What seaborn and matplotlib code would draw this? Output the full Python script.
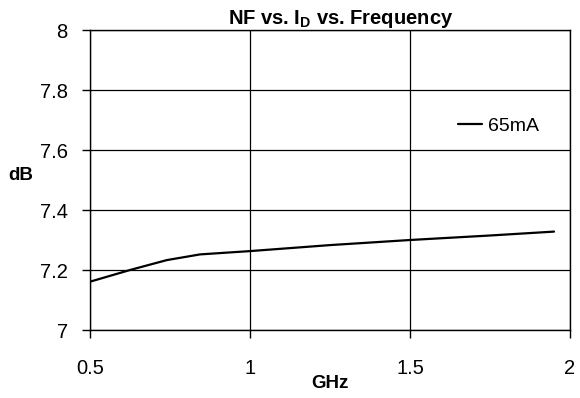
import matplotlib
matplotlib.use("Agg")
import matplotlib.pyplot as plt
import seaborn as sns
import pandas as pd

freq_ghz = [0.5, 0.625, 0.74, 0.844, 1.0, 1.25, 1.5, 1.75, 1.95]
nf_db = [7.161, 7.200, 7.233, 7.252, 7.263, 7.283, 7.300, 7.315, 7.328]
series = ["65mA"] * len(freq_ghz)
x_ticks = [0.5, 1, 1.5, 2]
y_ticks = [7, 7.2, 7.4, 7.6, 7.8, 8]

df = pd.DataFrame({"GHz": freq_ghz, "dB": nf_db, "Bias": series})

sns.set_theme(style="white")
plt.rcParams["font.family"] = ["Liberation Sans", "DejaVu Sans"]
plt.rcParams["mathtext.fontset"] = "custom"
plt.rcParams["mathtext.rm"] = "Liberation Sans:bold"
plt.rcParams["mathtext.bf"] = "Liberation Sans:bold"
plt.rcParams["text.color"] = "black"
plt.rcParams["axes.labelcolor"] = "black"

fig = plt.figure(figsize=(5.8, 3.98), dpi=100)
ax = fig.add_axes([90/580, 68/398, 480/580, 300/398])

sns.lineplot(data=df, x="GHz", y="dB", hue="Bias", palette=["black"], ax=ax, linewidth=1.6)

ax.set_xlim(0.5, 2)
ax.set_ylim(7, 8)
ax.set_xticks(x_ticks)
ax.set_xticklabels(["0.5", "1", "1.5", "2"])
ax.set_yticks(y_ticks)
ax.set_yticklabels(["7", "7.2", "7.4", "7.6", "7.8", "8"])
ax.tick_params(axis="both", direction="out", length=6, width=1, colors="black",
               labelsize=14.5, bottom=True, left=True)
ax.tick_params(axis="x", pad=15)
ax.tick_params(axis="y", pad=10)
ax.grid(True, color="black", linewidth=0.9)
for s in ax.spines.values():
    s.set_color("black")
    s.set_linewidth(1)

ax.set_xlabel("GHz", fontsize=13.5, fontweight="bold")
ax.xaxis.set_label_coords((330 - 90) / 480, -(383 - 330) / 300)
ax.xaxis.label.set_va("center")
ax.set_ylabel("dB", fontsize=13.5, fontweight="bold", rotation=0)
ax.yaxis.set_label_coords((21 - 90) / 480, (330 - 176) / 300)
ax.yaxis.label.set_va("center")
ax.yaxis.label.set_ha("center")

fig.text(341/580, 1 - 19/398, r"NF vs. I$_\mathregular{D}$ vs. Frequency",
         ha="center", va="center", fontsize=14.5, fontweight="bold")

leg = ax.legend(loc="center left", bbox_to_anchor=((458 - 90) / 480, (330 - 126) / 300),
                frameon=False, fontsize=14, handlelength=1.24, handletextpad=0.3,
                borderpad=0, borderaxespad=0)
leg.set_title(None)

fig.savefig("out.png", dpi=100)
